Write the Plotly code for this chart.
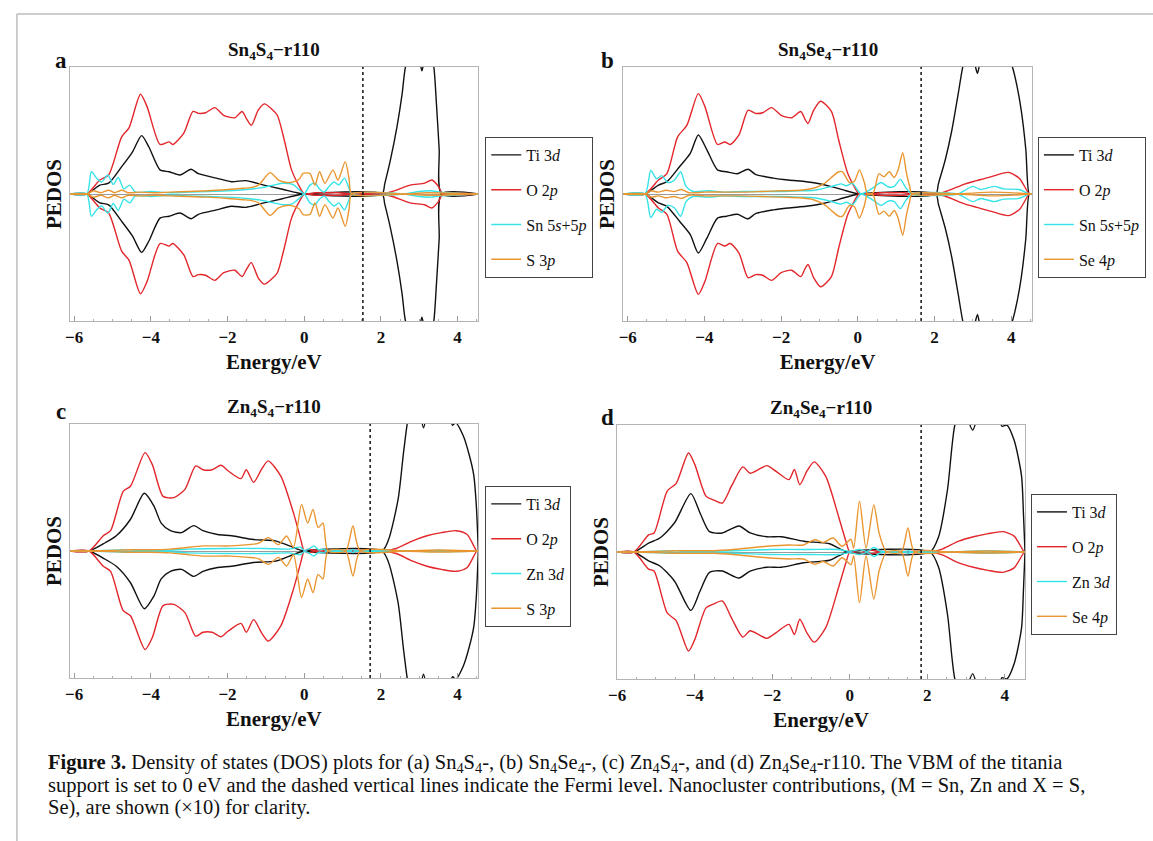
import plotly.graph_objects as go

# ---------------- data (upper half of each mirrored PEDOS curve) ----------------
# Panel a : Sn4S4-r110
A_TI_E = [-6.12, -5.67, -5.33, -5.10, -4.76, -4.48, -4.24, -4.05, -3.76, -3.52, -3.24, -2.95, -2.76, -2.29, -1.90, -1.52, -1.05, -0.57, -0.19, 0.00, 2.03, 2.10, 2.25, 2.42, 2.55, 2.64, 2.80, 2.97, 3.07, 3.17, 3.30, 3.38, 3.45, 3.52, 3.58, 4.54]
A_TI_V = [0, 0, 0.70, 0.85, 2.15, 3.30, 4.60, 3.70, 1.90, 1.75, 1.50, 1.95, 1.60, 1.25, 0.97, 1.05, 0.70, 0.37, 0.10, 0, 0, 0.8, 2.7, 5.3, 7.8, 10.0, 11.5, 11.0, 9.7, 11.0, 11.0, 10.0, 7.0, 3.5, 0, 0]
A_O_E = [-6.12, -5.67, -5.33, -5.10, -4.76, -4.57, -4.27, -4.10, -3.76, -3.52, -3.43, -3.14, -2.90, -2.76, -2.57, -2.33, -2.10, -1.81, -1.62, -1.50, -1.38, -1.20, -1.04, -0.85, -0.70, -0.52, -0.33, -0.10, 0.00, 0.30, 0.60, 0.90, 1.20, 2.05, 2.30, 2.76, 3.14, 3.33, 3.50, 3.62, 4.54]
A_O_V = [0, 0, 1.10, 1.50, 4.50, 5.20, 7.85, 6.90, 3.90, 4.10, 3.90, 4.80, 6.50, 6.35, 6.40, 6.80, 6.20, 6.00, 6.50, 5.90, 5.40, 6.60, 7.10, 6.70, 6.20, 4.25, 1.90, 0.45, 0, 0.10, 0.10, 0.10, 0, 0, 0.20, 0.70, 0.85, 1.10, 0.60, 0, 0]
A_SN_E = [-6.12, -5.67, -5.55, -5.40, -5.28, -5.12, -4.98, -4.85, -4.70, -4.55, -4.40, -4.00, -3.50, -3.00, -2.50, -2.00, -1.50, -1.10, -0.80, -0.55, -0.30, -0.10, 0.00, 0.15, 0.28, 0.40, 0.52, 0.65, 0.78, 0.90, 1.05, 1.15, 1.24, 2.60, 3.00, 3.30, 3.55, 4.54]
A_SN_V = [0, 0, 1.75, 1.20, 0.95, 1.50, 0.75, 1.30, 0.40, 0.70, 0.15, 0.20, 0.10, 0.15, 0.20, 0.25, 0.35, 0.50, 0.70, 0.85, 0.75, 0.25, 0, 0.70, 0.85, 0.40, 0.15, 0.60, 0.95, 0.70, 1.25, 0.60, 0, 0, 0.20, 0.25, 0.15, 0]
A_S_E = [-6.12, -5.67, -5.50, -5.30, -5.10, -4.95, -4.75, -4.60, -4.30, -3.90, -3.50, -3.00, -2.50, -2.00, -1.60, -1.40, -1.19, -0.89, -0.67, -0.45, -0.28, -0.12, -0.03, 0.15, 0.28, 0.40, 0.54, 0.75, 0.88, 1.07, 1.17, 1.24, 2.60, 3.20, 4.54]
A_S_V = [0, 0, 0.25, 0.10, 0.30, 0.10, 0.30, 0.10, 0.15, 0.10, 0.15, 0.20, 0.25, 0.35, 0.45, 0.50, 0.70, 1.68, 1.10, 0.90, 0.95, 1.20, 1.63, 1.60, 0.70, 1.75, 0.84, 1.90, 1.10, 2.55, 1.20, 0, 0, 0.10, 0]

# Panel b : Sn4Se4-r110
B_TI_E = [-6.12, -5.55, -5.20, -4.98, -4.65, -4.37, -4.16, -3.94, -3.66, -3.42, -3.14, -2.86, -2.67, -2.20, -1.82, -1.35, -1.07, -0.69, -0.31, 0.05, 2.03, 2.10, 2.28, 2.45, 2.62, 2.75, 2.90, 3.05, 3.12, 3.20, 3.50, 3.80, 4.03, 4.15, 4.26, 4.38, 4.47, 4.54]
B_TI_V = [0, 0, 0.70, 0.97, 2.15, 3.20, 4.65, 3.50, 1.90, 1.75, 1.60, 1.95, 1.55, 1.25, 1.10, 0.97, 0.85, 0.58, 0.26, 0, 0, 0.8, 2.7, 5.0, 7.95, 10.2, 11.5, 10.2, 9.5, 10.5, 12.0, 11.5, 10.0, 8.5, 6.6, 3.5, 0, 0]
B_O_E = [-6.12, -5.55, -5.20, -4.98, -4.70, -4.46, -4.16, -3.99, -3.66, -3.47, -3.33, -3.10, -2.86, -2.67, -2.48, -2.25, -2.00, -1.73, -1.49, -1.38, -1.30, -1.15, -0.97, -0.69, -0.50, -0.26, 0.00, 0.05, 0.30, 0.60, 0.90, 1.20, 1.40, 2.05, 2.30, 2.80, 3.10, 3.46, 3.93, 4.22, 4.47, 4.54]
B_O_V = [0, 0, 1.10, 1.60, 4.50, 5.40, 7.90, 6.90, 3.90, 4.10, 3.90, 4.65, 6.60, 6.35, 6.40, 6.80, 6.20, 6.00, 6.50, 5.90, 5.55, 6.60, 7.30, 6.50, 4.25, 1.60, 0.10, 0, 0, 0.10, 0.10, 0.10, 0, 0, 0.20, 0.80, 1.05, 1.35, 1.70, 1.20, 0, 0]
B_SN_E = [-6.12, -5.55, -5.40, -5.25, -5.12, -4.95, -4.78, -4.62, -4.48, -4.30, -3.90, -3.50, -3.00, -2.50, -2.00, -1.50, -1.13, -0.70, -0.44, -0.30, -0.14, 0.08, 0.30, 0.45, 0.60, 0.80, 0.95, 1.11, 1.25, 1.41, 2.60, 3.00, 3.20, 3.56, 3.80, 4.20, 4.47, 4.54]
B_SN_V = [0, 0, 1.85, 1.20, 1.45, 0.90, 1.10, 1.75, 0.60, 0.20, 0.25, 0.15, 0.20, 0.20, 0.20, 0.25, 0.30, 0.58, 0.80, 0.65, 0.84, 0, 0.30, 0.60, 0.90, 0.55, 0.60, 1.15, 0.50, 0, 0, 0.60, 0.35, 0.60, 0.40, 0.35, 0, 0]
B_SE_E = [-6.12, -5.55, -5.40, -5.20, -5.00, -4.80, -4.60, -4.40, -4.00, -3.50, -3.00, -2.50, -2.00, -1.50, -1.16, -0.87, -0.69, -0.50, -0.40, -0.22, -0.09, 0.04, 0.17, 0.25, 0.40, 0.55, 0.68, 0.82, 0.95, 1.05, 1.17, 1.27, 1.35, 1.41, 2.60, 3.50, 4.54]
B_SE_V = [0, 0, 0.25, 0.15, 0.30, 0.20, 0.35, 0.10, 0.15, 0.15, 0.15, 0.20, 0.25, 0.30, 0.45, 0.84, 1.30, 1.75, 1.75, 0.90, 1.00, 1.90, 0.90, 0, 0.10, 1.60, 1.35, 1.75, 1.30, 1.90, 3.25, 1.60, 0.60, 0, 0, 0.15, 0]

# Panel c : Zn4S4-r110
C_TI_E = [-6.12, -5.61, -5.19, -4.90, -4.53, -4.17, -3.92, -3.73, -3.49, -3.20, -2.88, -2.64, -2.26, -1.89, -1.32, -0.75, -0.38, 0.00, 2.03, 2.20, 2.45, 2.60, 2.75, 2.95, 3.11, 3.30, 3.60, 3.80, 3.87, 3.95, 4.15, 4.30, 4.42, 4.49, 4.54]
C_TI_V = [0, 0, 0.65, 1.20, 2.50, 4.55, 3.55, 2.20, 1.60, 1.45, 2.00, 1.60, 1.30, 1.20, 0.90, 0.80, 0.40, 0, 0, 0.90, 4.10, 8.0, 11.0, 12.0, 9.7, 12.0, 12.0, 10.5, 9.9, 10.1, 9.05, 7.6, 6.0, 3.5, 0]
C_O_E = [-6.12, -5.61, -5.24, -5.05, -4.72, -4.53, -4.15, -3.96, -3.68, -3.40, -3.11, -2.83, -2.64, -2.40, -2.17, -1.98, -1.65, -1.51, -1.32, -1.10, -0.94, -0.61, -0.28, -0.09, 0.00, 0.10, 0.25, 0.45, 0.60, 2.06, 2.40, 2.83, 3.20, 3.58, 3.96, 4.25, 4.50, 4.54]
C_O_V = [0, 0, 1.20, 1.60, 4.70, 5.10, 7.75, 6.80, 4.30, 4.20, 4.85, 6.70, 6.40, 6.40, 6.75, 6.30, 5.70, 6.40, 5.40, 6.50, 7.10, 5.90, 3.00, 0.90, 0, 0.15, 0.05, 0.10, 0, 0, 0.20, 0.80, 1.20, 1.45, 1.60, 1.30, 0, 0]
C_ZN_E = [-6.12, -5.61, -4.60, -4.40, -3.60, -3.00, -2.00, -1.00, -0.40, -0.10, 0.00, 0.12, 0.25, 0.38, 0.50, 0.60, 1.20, 1.27, 1.35, 2.60, 3.50, 4.54]
C_ZN_V = [0, 0, 0.10, 0.05, 0.05, 0.15, 0.20, 0.20, 0.15, 0.30, 0.05, 0.15, 0.40, 0.10, 0.15, 0, 0, 0.12, 0, 0, 0.05, 0]
C_S_E = [-6.12, -5.61, -5.00, -4.50, -4.00, -3.50, -3.11, -2.64, -1.92, -1.45, -1.20, -0.93, -0.67, -0.46, -0.28, -0.07, 0.09, 0.23, 0.36, 0.49, 0.62, 1.08, 1.27, 1.46, 2.60, 3.50, 4.54]
C_S_V = [0, 0, 0.05, 0.10, 0.10, 0.15, 0.26, 0.40, 0.40, 0.50, 0.60, 1.05, 0.50, 1.18, 0.30, 3.67, 2.20, 3.28, 1.84, 2.20, 0, 0, 1.97, 0, 0, 0.08, 0]

# Panel d : Zn4Se4-r110
D_TI_E = [-6.00, -5.57, -5.19, -4.90, -4.52, -4.10, -3.86, -3.62, -3.29, -2.86, -2.57, -2.14, -1.76, -1.19, -0.52, -0.29, -0.05, 2.07, 2.29, 2.52, 2.71, 2.90, 3.17, 3.40, 3.70, 3.93, 4.05, 4.24, 4.43, 4.48, 4.52]
D_TI_V = [0, 0, 0.70, 1.10, 2.30, 4.60, 3.05, 1.60, 1.50, 2.05, 1.50, 1.20, 1.20, 0.85, 0.65, 0.30, 0, 0, 1.20, 4.90, 10.0, 11.5, 9.6, 11.5, 11.5, 9.9, 10.0, 8.8, 6.0, 3.0, 0]
D_O_E = [-6.00, -5.57, -5.19, -5.05, -4.71, -4.48, -4.16, -4.00, -3.71, -3.52, -3.29, -3.05, -2.76, -2.57, -2.35, -2.14, -1.90, -1.57, -1.43, -1.29, -1.10, -0.92, -0.62, -0.29, -0.10, 0.00, 0.15, 0.25, 0.40, 0.55, 0.70, 0.90, 2.10, 2.40, 2.81, 3.19, 3.57, 3.95, 4.24, 4.50, 4.52]
D_O_V = [0, 0, 1.35, 1.50, 4.80, 5.40, 7.80, 6.90, 4.40, 4.10, 3.85, 5.20, 6.70, 6.20, 6.50, 6.80, 6.35, 5.70, 6.50, 5.30, 6.40, 7.10, 5.95, 2.80, 0.85, 0, 0.10, 0.20, 0, 0.15, 0.05, 0, 0, 0.25, 0.85, 1.20, 1.45, 1.60, 1.25, 0, 0]
D_ZN_E = [-6.00, -5.57, -4.50, -4.30, -3.00, -2.00, -1.00, -0.30, 0.00, 0.25, 0.45, 0.62, 0.80, 0.95, 1.45, 1.50, 1.60, 2.60, 3.50, 4.52]
D_ZN_V = [0, 0, 0.10, 0.05, 0.10, 0.20, 0.20, 0.20, 0.05, 0.20, 0.05, 0.35, 0.05, 0, 0, 0.10, 0, 0, 0.10, 0]
D_SE_E = [-6.00, -5.57, -5.00, -4.50, -3.50, -3.00, -2.14, -1.57, -1.20, -0.90, -0.69, -0.43, -0.20, 0.03, 0.10, 0.25, 0.42, 0.62, 0.76, 0.95, 1.33, 1.50, 1.67, 2.60, 3.50, 4.52]
D_SE_V = [0, 0, 0.05, 0.10, 0.10, 0.20, 0.45, 0.55, 0.55, 0.97, 0.75, 1.10, 0.45, 1.00, 0.30, 4.00, 0.30, 3.70, 1.45, 0, 0, 1.90, 0, 0, 0.08, 0]

FERMI_LEVELS = [1.53, 1.65, 1.72, 1.84]
X_RANGES = [[-6.12, 4.54], [-6.12, 4.54], [-6.12, 4.54], [-6.0, 4.52]]
PANEL_TITLES = ["Sn<sub>4</sub>S<sub>4</sub>−r110", "Sn<sub>4</sub>Se<sub>4</sub>−r110",
                "Zn<sub>4</sub>S<sub>4</sub>−r110", "Zn<sub>4</sub>Se<sub>4</sub>−r110"]
PANEL_LABELS = ["a", "b", "c", "d"]
LEGEND_NAMES = [
    ["Ti 3<i>d</i>", "O 2<i>p</i>", "Sn 5<i>s</i>+5<i>p</i>", "S 3<i>p</i>"],
    ["Ti 3<i>d</i>", "O 2<i>p</i>", "Sn 5<i>s</i>+5<i>p</i>", "Se 4<i>p</i>"],
    ["Ti 3<i>d</i>", "O 2<i>p</i>", "Zn 3<i>d</i>", "S 3<i>p</i>"],
    ["Ti 3<i>d</i>", "O 2<i>p</i>", "Zn 3<i>d</i>", "Se 4<i>p</i>"],
]
SERIES = [
    [(A_TI_E, A_TI_V), (A_O_E, A_O_V), (A_SN_E, A_SN_V), (A_S_E, A_S_V)],
    [(B_TI_E, B_TI_V), (B_O_E, B_O_V), (B_SN_E, B_SN_V), (B_SE_E, B_SE_V)],
    [(C_TI_E, C_TI_V), (C_O_E, C_O_V), (C_ZN_E, C_ZN_V), (C_S_E, C_S_V)],
    [(D_TI_E, D_TI_V), (D_O_E, D_O_V), (D_ZN_E, D_ZN_V), (D_SE_E, D_SE_V)],
]
X_TITLE = "Energy/eV"
Y_TITLE = "PEDOS"
CAPTION_LINES = [
    "<b>Figure 3.</b> Density of states (DOS) plots for (a) Sn<sub>4</sub>S<sub>4</sub>-, "
    "(b) Sn<sub>4</sub>Se<sub>4</sub>-, (c) Zn<sub>4</sub>S<sub>4</sub>-, and (d) "
    "Zn<sub>4</sub>Se<sub>4</sub>-r110. The VBM of the titania",
    "support is set to 0 eV and the dashed vertical lines indicate the Fermi level. "
    "Nanocluster contributions, (M = Sn, Zn and X = S,",
    "Se), are shown (×10) for clarity.",
]

# ---------------- layout constants ----------------
W, H = 1153, 841
SERIF = "Liberation Serif, Times New Roman, serif"
COLORS = ["#111111", "#e2262b", "#35e3e8", "#ea9630"]
# plot boxes in pixels: left, top, right, bottom
BOXES = [(61, 67, 473, 321), (619, 67, 1031, 321), (61, 424, 473, 678), (613, 425, 1024, 679)]
LEGEND_POS = [(480, 137), (1037, 137), (480, 486), (1030, 494)]
LABEL_POS = [(52, 60), (603, 60), (52, 411), (603, 417)]
CAPTION_X = 37
CAPTION_Y = [763, 785, 807]


def px(x):
    return x / W


def py(y):
    return 1 - y / H


fig = go.Figure()

for i in range(4):
    ax = "" if i == 0 else str(i + 1)
    lg = "legend" if i == 0 else "legend%d" % (i + 1)
    for j, (E, V) in enumerate(SERIES[i]):
        xs = list(E) + [None] + list(E)
        ys = list(V) + [None] + [-v for v in V]
        fig.add_trace(go.Scatter(
            x=xs, y=ys, mode="lines", name=LEGEND_NAMES[i][j],
            line=dict(color=COLORS[j], width=1.4, shape="spline", smoothing=0.7),
            xaxis="x" + ax, yaxis="y" + ax, legend=lg,
            legendgroup="p%d_%d" % (i, j), connectgaps=False,
            hoverinfo="skip"))

layout = dict(
    width=W, height=H, autosize=False,
    margin=dict(l=0, r=0, t=0, b=0, pad=0),
    paper_bgcolor="white", plot_bgcolor="white",
    font=dict(family=SERIF, color="#111"),
    shapes=[], annotations=[],
)

for i in range(4):
    ax = "" if i == 0 else str(i + 1)
    l, t, r, b = BOXES[i]
    layout["xaxis" + ax] = dict(
        domain=[px(l), px(r)], anchor="y" + ax, range=X_RANGES[i],
        tick0=0, dtick=2, ticks="inside", ticklen=5, tickcolor="#9a9a9a", tickwidth=1,
        minor=dict(dtick=0.5, ticks="inside", ticklen=2.5, tickcolor="#b0b0b0"),
        showline=True, mirror=True, linecolor="#b4b4b4", linewidth=1,
        showgrid=False, zeroline=False,
        tickfont=dict(family=SERIF, size=17, color="#111", weight="bold"),
        ticklabelstandoff=1,
        title=dict(text="<b>%s</b>" % X_TITLE, font=dict(family=SERIF, size=21, color="#111"), standoff=7),
    )
    layout["yaxis" + ax] = dict(
        domain=[py(b), py(t)], anchor="x" + ax, range=[-10, 10],
        showticklabels=False, ticks="", showgrid=False,
        zeroline=True, zerolinecolor="#9a9a9a", zerolinewidth=1,
        showline=True, mirror=True, linecolor="#b4b4b4", linewidth=1,
        title=dict(text="<b>%s</b>" % Y_TITLE, font=dict(family=SERIF, size=21, color="#111"), standoff=1),
    )
    lg = "legend" if i == 0 else "legend%d" % (i + 1)
    lx, ly = LEGEND_POS[i]
    layout[lg] = dict(
        x=px(lx), y=py(ly), xanchor="left", yanchor="top",
        bgcolor="white", bordercolor="#444", borderwidth=1,
        font=dict(family=SERIF, size=16, color="#111"),
        tracegroupgap=11, itemwidth=30, traceorder="grouped",
    )
    # Fermi level
    layout["shapes"].append(dict(
        type="line", xref="x" + ax, yref="y" + ax + " domain",
        x0=FERMI_LEVELS[i], x1=FERMI_LEVELS[i], y0=0, y1=1,
        line=dict(color="#111", width=1.5, dash="3px,3px")))
    # panel title
    layout["annotations"].append(dict(
        text="<b>%s</b>" % PANEL_TITLES[i], xref="paper", yref="paper",
        x=px((l + r) / 2), y=py(t - 16), xanchor="center", yanchor="middle",
        showarrow=False, font=dict(family=SERIF, size=19, color="#111")))
    # panel letter
    lx2, ly2 = LABEL_POS[i]
    layout["annotations"].append(dict(
        text="<b>%s</b>" % PANEL_LABELS[i], xref="paper", yref="paper",
        x=px(lx2), y=py(ly2), xanchor="center", yanchor="middle",
        showarrow=False, font=dict(family=SERIF, size=23, color="#111")))

# caption, one annotation per printed line
for k, line in enumerate(CAPTION_LINES):
    layout["annotations"].append(dict(
        text=line, xref="paper", yref="paper", x=px(CAPTION_X), y=py(CAPTION_Y[k]),
        xanchor="left", yanchor="middle", align="left", showarrow=False,
        font=dict(family=SERIF, size=20.5, color="#111")))

# page border (top and left rules of the source page)
layout["shapes"].append(dict(type="line", xref="paper", yref="paper",
                             x0=px(8), x1=1, y0=py(14), y1=py(14),
                             line=dict(color="#bdbdbd", width=1.5)))
layout["shapes"].append(dict(type="line", xref="paper", yref="paper",
                             x0=px(8), x1=px(8), y0=py(14), y1=0,
                             line=dict(color="#bdbdbd", width=1.5)))

fig.update_layout(**layout)
PIN_SCRIPT = ("document.body.style.margin='0';document.body.style.overflow='hidden';"
              "var gd=document.getElementById('{plot_id}');"
              "gd.style.position='fixed';gd.style.left='0px';gd.style.top='0px';")
fig.write_html("out.html", config={"displayModeBar": False}, post_script=PIN_SCRIPT)
